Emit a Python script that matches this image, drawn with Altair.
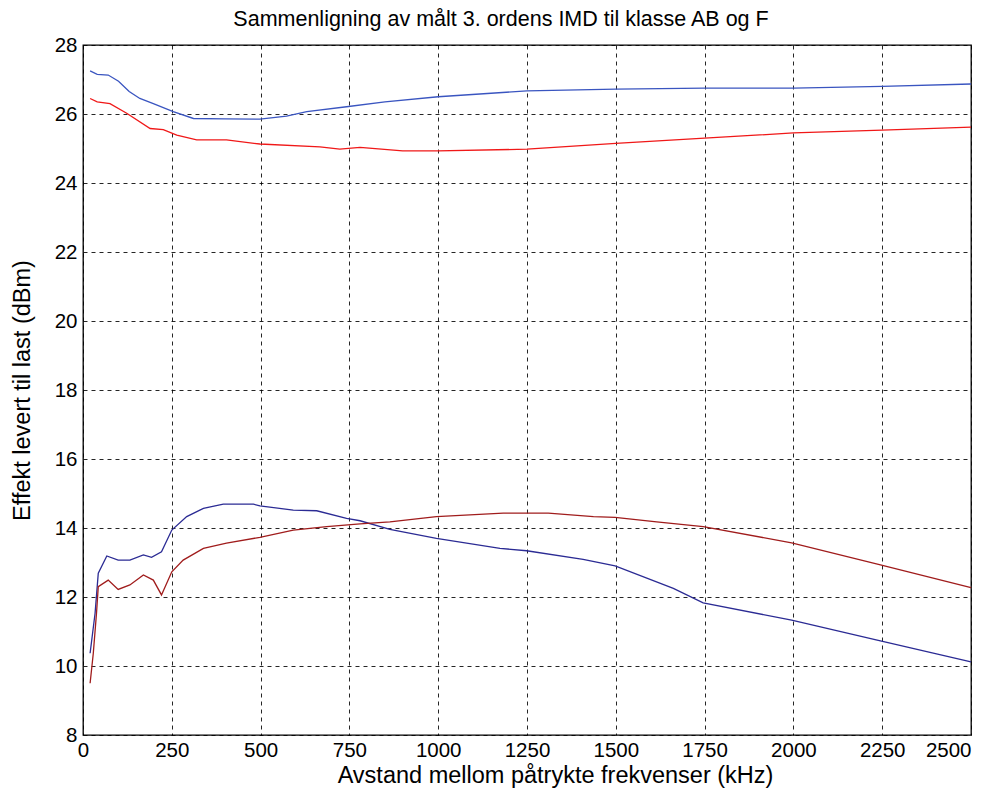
import altair as alt
import pandas as pd

# Upper blue curve
ub_x = [20, 40, 71, 100, 130, 160, 198, 254, 311, 400, 498, 573, 630, 742, 850, 1000, 1250, 1500, 1750, 2000, 2250, 2500]
ub_y = [27.25, 27.15, 27.13, 26.95, 26.65, 26.45, 26.3, 26.07, 25.87, 25.86, 25.85, 25.94, 26.07, 26.21, 26.35, 26.5, 26.67, 26.72, 26.75, 26.75, 26.8, 26.87]

# Upper red curve
ur_x = [20, 40, 76, 123, 189, 226, 264, 320, 404, 498, 667, 723, 780, 900, 1000, 1250, 1500, 1750, 2000, 2250, 2500]
ur_y = [26.45, 26.35, 26.3, 26.02, 25.58, 25.55, 25.39, 25.25, 25.25, 25.13, 25.05, 24.98, 25.03, 24.93, 24.93, 24.98, 25.15, 25.3, 25.45, 25.53, 25.62]

# Lower blue curve
lb_x = [20, 34, 43, 67, 99, 132, 170, 193, 221, 250, 292, 339, 395, 480, 498, 592, 658, 742, 780, 864, 995, 1174, 1249, 1408, 1498, 1662, 1746, 1995, 2245, 2500]
lb_y = [10.37, 11.53, 12.69, 13.19, 13.07, 13.07, 13.22, 13.15, 13.31, 13.94, 14.33, 14.57, 14.69, 14.69, 14.64, 14.52, 14.5, 14.28, 14.21, 13.96, 13.7, 13.41, 13.34, 13.09, 12.9, 12.25, 11.83, 11.33, 10.73, 10.12]

# Lower red curve
lr_x = [20, 29, 38, 43, 71, 99, 132, 170, 198, 221, 250, 282, 339, 404, 498, 592, 686, 780, 864, 995, 1183, 1310, 1437, 1498, 1615, 1746, 1995, 2245, 2500]
lr_y = [9.5, 10.37, 11.53, 12.3, 12.49, 12.22, 12.35, 12.64, 12.49, 12.06, 12.73, 13.07, 13.41, 13.56, 13.73, 13.94, 14.04, 14.12, 14.18, 14.33, 14.43, 14.43, 14.33, 14.31, 14.18, 14.04, 13.57, 12.93, 12.27]

series_names = ["ub", "ur", "lb", "lr"]
series_colors = ["#3a55c0", "#f01818", "#2b2b94", "#a01c1c"]

x_ticks = list(range(0, 2501, 250))
y_ticks = list(range(8, 29, 2))

rows = []
for name, xs, ys in zip(series_names, [ub_x, ur_x, lb_x, lr_x], [ub_y, ur_y, lb_y, lr_y]):
    for i, (x, y) in enumerate(zip(xs, ys)):
        rows.append({"serie": name, "x": x, "y": y, "i": i})
df = pd.DataFrame(rows)

font = "Liberation Sans"

chart = alt.Chart(df).mark_line(strokeWidth=1.3).encode(
    x=alt.X("x:Q",
            scale=alt.Scale(domain=[0, 2500], nice=False, zero=False),
            axis=alt.Axis(values=x_ticks, format="d",
                          title="Avstand mellom påtrykte frekvenser (kHz)",
                          titleX=472, titleAlign="center",
                          labelAlign={"expr": "datum.value == 2500 ? 'right' : 'center'"},
                          labelFlush=False)),
    y=alt.Y("y:Q",
            scale=alt.Scale(domain=[8, 28], nice=False, zero=False),
            axis=alt.Axis(values=y_ticks, format="d",
                          title="Effekt levert til last (dBm)")),
    color=alt.Color("serie:N", scale=alt.Scale(domain=series_names, range=series_colors), legend=None),
    detail="serie:N",
    order="i:Q",
).properties(
    width=888,
    height=690,
    background="white",
    title=alt.TitleParams("Sammenligning av målt 3. ordens IMD til klasse AB og F",
                          fontSize=21.5, fontWeight="normal", font=font, color="#000",
                          offset=5, dx=-26),
    autosize=alt.AutoSizeParams(type="none"),
    padding={"left": 75, "top": 37, "right": 16, "bottom": 60},
).configure_view(
    stroke="#000", strokeWidth=1.3
).configure_axis(
    domain=False,
    grid=True,
    gridColor="#000",
    gridDash=[4, 4],
    gridWidth=1,
    gridOpacity=0.85,
    ticks=False,
    labelFont=font,
    labelFontSize=20.5,
    labelColor="#000",
    titleFont=font,
    titleFontSize=23.5,
    titleFontWeight="normal",
    titleColor="#000",
).configure_axisX(
    labelPadding=5, titlePadding=3
).configure_axisY(
    labelPadding=6, titlePadding=20
)

chart.save("out.html", embed_options={"renderer": "svg", "actions": False})
